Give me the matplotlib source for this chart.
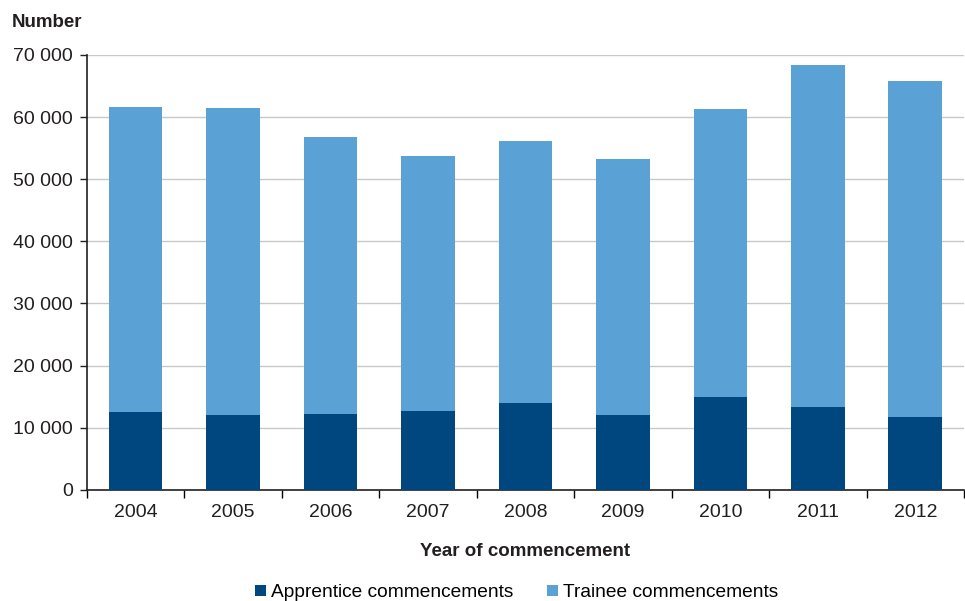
import numpy as np
import matplotlib.pyplot as plt
from matplotlib.ticker import FuncFormatter

plt.rcParams['font.family'] = ['Liberation Sans', 'DejaVu Sans']

years = ['2004', '2005', '2006', '2007', '2008', '2009', '2010', '2011', '2012']
apprentice = [12500, 12000, 12150, 12700, 13900, 12000, 15000, 13300, 11700]
total = [61600, 61500, 56800, 53700, 56200, 53200, 61300, 68400, 65800]
trainee = [t - a for t, a in zip(total, apprentice)]

dark = '#00467f'
light = '#5aa1d6'

fig = plt.figure(figsize=(9.65, 6.01), dpi=100)
ax = fig.add_axes([0.090, 0.185, 0.909, 0.7235])

x = np.arange(len(years))
ax.bar(x, apprentice, width=0.55, color=dark, label='Apprentice commencements', zorder=3)
ax.bar(x, trainee, width=0.55, bottom=apprentice, color=light, label='Trainee commencements', zorder=3)

ax.set_xlim(-0.5, len(years) - 0.5)
ax.set_ylim(0, 70000)
ax.set_yticks(np.arange(0, 70001, 10000))
ax.yaxis.set_major_formatter(FuncFormatter(lambda v, p: '{:,.0f}'.format(v).replace(',', ' ')))
ax.grid(axis='y', color='#c8c8c8', lw=1, zorder=0)

ax.set_xticks(x)
ax.set_xticklabels(years)
ax.set_xticks(np.arange(-0.5, len(years)), minor=True)
ax.tick_params(axis='x', which='major', length=0, labelsize=14, pad=10, colors='#231f20')
ax.tick_params(axis='x', which='minor', length=6, width=1, direction='out')
ax.tick_params(axis='y', length=5, width=1, labelsize=14, colors='#231f20', pad=5)

for s in ['top', 'right']:
    ax.spines[s].set_visible(False)
for s in ['left', 'bottom']:
    ax.spines[s].set_color('#231f20')
    ax.spines[s].set_linewidth(1.2)

ax.set_xlabel('Year of commencement', fontsize=13.5, fontweight='bold', color='#231f20', labelpad=16)
fig.text(0.012, 0.955, 'Number', fontsize=13.5, fontweight='bold', color='#231f20')

ax.legend(loc='upper center', bbox_to_anchor=(0.49, -0.178), ncol=2, frameon=False,
          fontsize=13.8, handlelength=0.55, handleheight=0.55, handletextpad=0.25, columnspacing=1.8)

fig.savefig('out.png', dpi=100)
